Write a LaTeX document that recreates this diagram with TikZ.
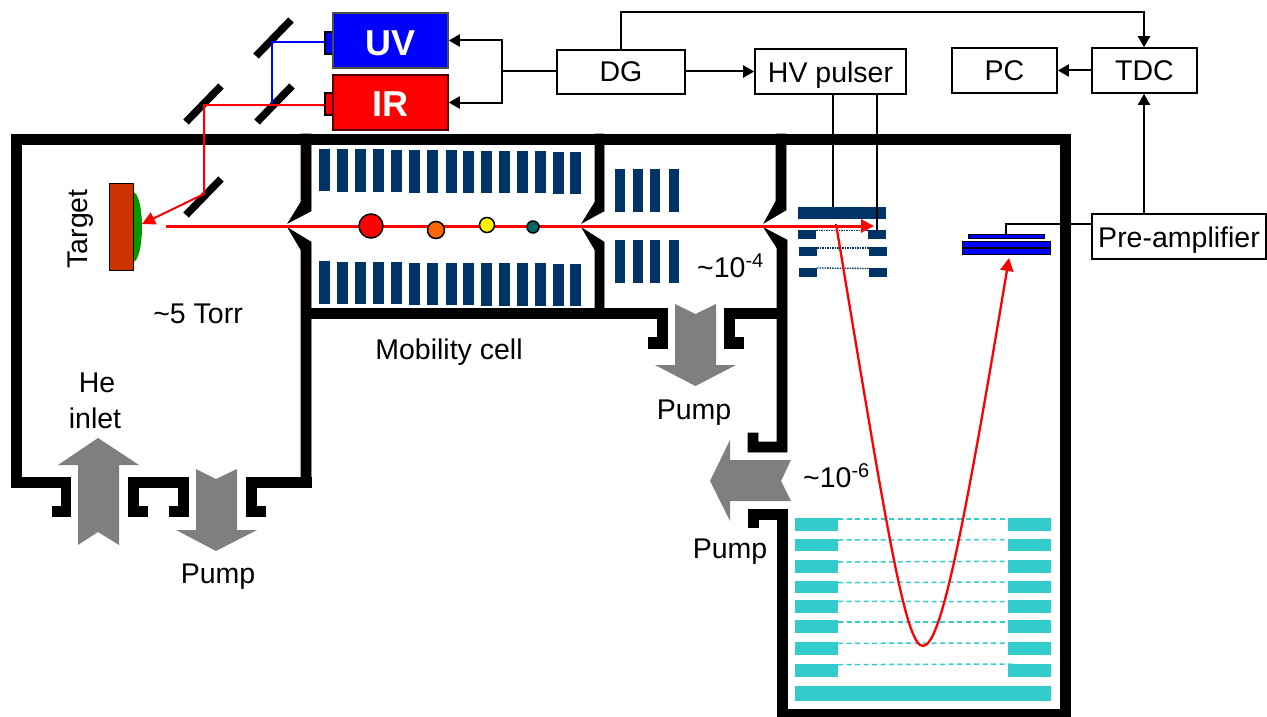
\documentclass[tikz,border=0pt]{standalone}
\usepackage{fontspec}
\setmainfont{Liberation Sans}
\usetikzlibrary{arrows.meta,shapes.geometric}
\definecolor{navy}{HTML}{003366}
\definecolor{tealc}{HTML}{33CCCC}
\definecolor{graya}{HTML}{7F7F7F}
\tikzset{
  wall/.style={draw=black,line width=.6pt,fill=black},
  plate/.style={fill=navy},
  cyanplate/.style={fill=tealc},
  grayarrow/.style={fill=graya},
  mirror/.style={line width=7.5pt,black},
  box/.style={draw=black,line width=1.6pt,fill=white,font=\fontsize{28.5}{32}\selectfont,inner sep=0pt,anchor=center},
  label/.style={font=\fontsize{28.5}{32}\selectfont,inner sep=0pt},
  sig/.style={draw=black,line width=2pt},
  sigarrow/.style={sig,-{Triangle[length=11pt,width=12pt]}},
  beam/.style={draw=red,line width=2pt},
  mainbeam/.style={draw=red,line width=3pt},
  redarrow/.style={-{Triangle[length=13pt,width=13pt,color=red]}},
  griddot/.style={draw=navy,line width=1.3pt,dash pattern=on 1.5pt off 1pt},
  griddash/.style={draw=tealc,line width=1.5pt,dash pattern=on 5pt off 3.5pt},
  ball/.style={circle,draw=black,line width=1.5pt,inner sep=0pt},
}
\begin{document}
\begin{tikzpicture}[x=1pt,y=-1pt]
\useasboundingbox (0,0) rectangle (1267,717);
% ---- chamber walls
\fill[wall] (12,134) rectangle (1070,144);
\fill[wall] (11,134) rectangle (21,487);
\fill[wall] (11,477) -- (70,477) -- (70,516) -- (52,516) -- (52,506) -- (61,506) -- (61,487) -- (11,487) -- cycle;
\fill[wall] (128,477) -- (188,477) -- (188,516) -- (169,516) -- (169,506) -- (178,506) -- (178,487) -- (138,487) -- (138,506) -- (147,506) -- (147,516) -- (128,516) -- cycle;
\fill[wall] (246,477) -- (311,477) -- (311,487) -- (256,487) -- (256,506) -- (265,506) -- (265,516) -- (246,516) -- cycle;
% cell wall 1
\fill[wall] (301,134) -- (311,134) -- (311,211) -- (288,223) -- (301,202) -- cycle;
\fill[wall] (288,228) -- (311,242) -- (311,487) -- (301,487) -- (301,250) -- cycle;
% cell wall 2
\fill[wall] (595,134) -- (604,134) -- (604,211) -- (582,223) -- (595,202) -- cycle;
\fill[wall] (582,228) -- (604,242) -- (604,318) -- (595,318) -- (595,250) -- cycle;
% cell floor and pump port
\fill[wall] (301,308) -- (667,308) -- (667,348) -- (648,348) -- (648,337) -- (657,337) -- (657,318) -- (301,318) -- cycle;
\fill[wall] (724,308) -- (780,308) -- (780,318) -- (734,318) -- (734,337) -- (743,337) -- (743,348) -- (724,348) -- cycle;
% wall 3
\fill[wall] (776,134) -- (786,134) -- (786,210) -- (764,223) -- (776,201) -- cycle;
\fill[wall] (764,228) -- (787,240) -- (787,452) -- (748,452) -- (748,433) -- (758,433) -- (758,442) -- (777,442) -- (777,248) -- cycle;
\fill[wall] (748,509) -- (787,509) -- (787,709) -- (1060,709) -- (1060,134) -- (1070,134) -- (1070,717) -- (777,717) -- (777,519) -- (758,519) -- (758,527) -- (748,527) -- cycle;
% ---- drift tube electrodes
\foreach \x/\a/\b/\c/\d in {118/57/183/393/521,172/58/185/395/522,225/58/185/395/522,280/58/185/395/522,334/60/186/397/523,388/61/188/399/525,441/61/188/399/525,497/61/188/399/525,550/63/190/399/525,604/63/190/400/527,657/63/190/400/527,712/63/190/400/527,765/63/190/400/527,818/65/191/402/527,870/65/191/402/527}{
  \fill[plate] ({280+\x/3},{130+\a/3}) rectangle ++(11,{(\b-\a)/3});
  \fill[plate] ({280+\x/3},{130+\c/3}) rectangle ++(11,{(\d-\c)/3});
}
\foreach \x in {615,632.7,650,669}{
  \fill[plate] (\x,169) rectangle ++(10,43);
  \fill[plate] (\x,240) rectangle ++(10,43);
}
% ---- extraction stack
\fill[plate] (798,207) rectangle (886,219);
\foreach \y/\o in {230/0,247/1,268/1}{
  \fill[plate] ({798+\o},\y) rectangle ++(18,9);
  \fill[plate] ({868+\o},\y) rectangle ++(18,9);
}
\coordinate (gl1) at (816,230.5); \coordinate (gr1) at (868,230.5);
\coordinate (gl2) at (817,248); \coordinate (gr2) at (869,248);
\coordinate (gl3) at (817,268); \coordinate (gr3) at (869,268.5);
\draw[griddot] (gl1) -- (gr1);
\draw[griddot] (gl2) -- (gr2);
\draw[griddot] (gl3) -- (gr3);
% ---- reflectron
\foreach \a/\b in {295/333,357/394,421/460,482/520,541/580,601/640,666/706,732/772}{
  \fill[cyanplate] (795,{420+\a/3}) rectangle (838,{420+\b/3});
  \fill[cyanplate] (1008,{420+\a/3}) rectangle (1051,{420+\b/3});
}
\fill[cyanplate] (795,686) rectangle (1051,701);
\foreach \a/\e/\f in {297/297/945,360/359/945,426/424/945,488/486/945,544/545/945,606/606/945,670/669/945,734/732/965}{
  \coordinate (dl) at (838,{420+\a/3});
  \coordinate (dr) at ({690+\f/3},{420+\e/3});
  \draw[griddash] (dl) -- (dr);
}
% ---- gray arrows
\fill[grayarrow] (98,438) -- (139,465) -- (119,465) -- (119,545) -- (98,532) -- (78,545) -- (78,465) -- (58,465) -- cycle;
\fill[grayarrow] (196,469) -- (216,479) -- (237,469) -- (237,530) -- (257,530) -- (216,551) -- (176,530) -- (196,530) -- cycle;
\fill[grayarrow] (675,304) -- (695.5,314) -- (716,304) -- (716,365) -- (736,365) -- (695.5,386) -- (655,365) -- (675,365) -- cycle;
\fill[grayarrow] (710,481) -- (730,440) -- (730,460) -- (791,460) -- (781,481) -- (791,501) -- (730,501) -- (730,521) -- cycle;
% ---- target
\node[ellipse,fill={rgb,255:red,0;green,153;blue,0},minimum width=18pt,minimum height=70pt,inner sep=0pt] (film) at (133,227) {};
\node[draw=black,line width=1pt,fill={rgb,255:red,204;green,51;blue,0},minimum width=24pt,minimum height=87pt,inner sep=0pt] (target) at (121,226.5) {};
\node[label,rotate=90] (targetlabel) at (81,229) {Target};
% ---- lasers
\node[draw=black,line width=1.5pt,fill=blue,minimum width=9pt,minimum height=22pt,inner sep=0pt] (uvport) at (329.5,43) {};
\node[draw=black,line width=1.5pt,fill=red,minimum width=9pt,minimum height=22pt,inner sep=0pt] (irport) at (329.5,104) {};
\node[draw=black!70,line width=1.5pt,fill=blue,text=white,font=\fontsize{36}{40}\selectfont\bfseries,minimum width=115pt,minimum height=55pt,inner sep=0pt] (uv) at (390.5,40.5) {\raisebox{-15.5pt}[0pt][0pt]{UV}};
\node[draw=black!70!red,line width=1.5pt,fill=red,text=white,font=\fontsize{36}{40}\selectfont\bfseries,minimum width=115pt,minimum height=55pt,inner sep=0pt] (ir) at (390.5,102.5) {\raisebox{-14pt}[0pt][0pt]{IR}};
% mirrors
\coordinate (m1a) at (256,56); \coordinate (m1b) at (291,20);
\coordinate (m2a) at (257,122); \coordinate (m2b) at (292,86);
\coordinate (m3a) at (186,122); \coordinate (m3b) at (221,86);
\coordinate (m4a) at (186,215); \coordinate (m4b) at (221,179);
\draw[mirror] (m1a) -- (m1b);
\draw[mirror] (m2a) -- (m2b);
\draw[mirror] (m3a) -- (m3b);
\draw[mirror] (m4a) -- (m4b);
% beams
\coordinate (blue1) at (272,42); \coordinate (blue2) at (272,106);
\coordinate (red1) at (204,105); \coordinate (red2) at (204,194);
\coordinate (hit) at (142,224);
\draw[draw=blue,line width=2pt] (uvport.west |- blue1) -- (blue1) -- (blue2);
\draw[beam,redarrow] (irport.west |- red1) -- (red1) -- (red2) -- (hit);
\coordinate (ionstart) at (166,226);
\coordinate (iontip) at (874,226);
\draw[mainbeam,redarrow] (ionstart) -- (iontip);
% ions
\node[ball,fill=red,minimum size=24pt] (b1) at (371,226) {};
\node[ball,fill={rgb,255:red,255;green,102;blue,0},minimum size=17pt] (b2) at (436,230) {};
\node[ball,fill=yellow,minimum size=15pt] (b3) at (487,225) {};
\node[ball,fill={rgb,255:red,0;green,102;blue,102},minimum size=12pt] (b4) at (533,227) {};
% ---- electronics
\node[box,minimum width=128pt,minimum height=44pt] (dg) at (621,72) {DG};
\node[box,minimum width=151pt,minimum height=45pt] (hv) at (830.5,71.5) {\raisebox{-10.5pt}[0pt][0pt]{HV pulser}};
\node[box,minimum width=105pt,minimum height=45pt] (pc) at (1004.5,70.5) {PC};
\node[box,minimum width=105pt,minimum height=45pt] (tdc) at (1144.5,70.5) {TDC};
\node[box,minimum width=174pt,minimum height=45pt] (pre) at (1179,236.5) {\raisebox{-10.5pt}[0pt][0pt]{Pre-amplifier}};
% junction and connectors
\coordinate (j) at (502,71.5);
\coordinate (topl) at (621,12);
\coordinate (topr) at (1144,12);
\draw[sig] (dg.west |- j) -- (j);
\draw[sigarrow] (j) |- (uv.east);
\draw[sigarrow] (j) |- (ir.east);
\draw[sigarrow] (dg.east |- hv.west) -- (hv.west);
\draw[sigarrow] (tdc.west) -- (pc.east);
\draw[sigarrow] (topl |- dg.north) -- (topl) -- (topr) -- (topr |- tdc.north);
\draw[sigarrow] (topr |- pre.north) -- (topr |- tdc.south);
% HV leads
\coordinate (hva) at (833,207);
\coordinate (hvb) at (877,230);
\draw[sig] (hva |- hv.south) -- (hva);
\draw[sig] (hvb |- hv.south) -- (hvb);
% ---- detector
\fill[draw=black,line width=.8pt,fill=blue] (968,234) rectangle (1044,238);
\coordinate (det1n) at (1006,234);
\fill[draw=black,line width=.8pt,fill=blue] (962,241) rectangle (1050,254);
\coordinate (detl) at (962,247.7); \coordinate (detr) at (1050,247.7);
\draw[black,line width=1.8pt] (detl) -- (detr);
\coordinate (detc) at (1006,224);
\draw[sig] (det1n) -- (detc) -- (detc -| pre.west);
% ---- ToF trajectory
\coordinate (t0) at (836,224);
\coordinate (t1) at (923,646);
\coordinate (t2) at (1009,258);
\draw[beam,line width=2.3pt,redarrow] (t0) .. controls (886,524) and (905,646) .. (t1) .. controls (941,646) and (964,528) .. (t2);
% ---- labels
\node[label] (torr) at (198,314) {\char`~5 Torr};
\node[label] (mob) at (449,352) {Mobility cell};
\node[label] (pump1) at (218,577) {Pump};
\node[label] (pump2) at (694,413) {Pump};
\node[label] (pump3) at (730,552) {Pump};
\node[label] (he) at (97,383) {He};
\node[label] (inlet) at (95,418) {inlet};
\node[label,anchor=base west] (p4) at (697,277) {\char`~10\textsuperscript{-4}};
\node[label,anchor=base west] (p6) at (803,487) {\char`~10\textsuperscript{-6}};
\end{tikzpicture}
\end{document}
